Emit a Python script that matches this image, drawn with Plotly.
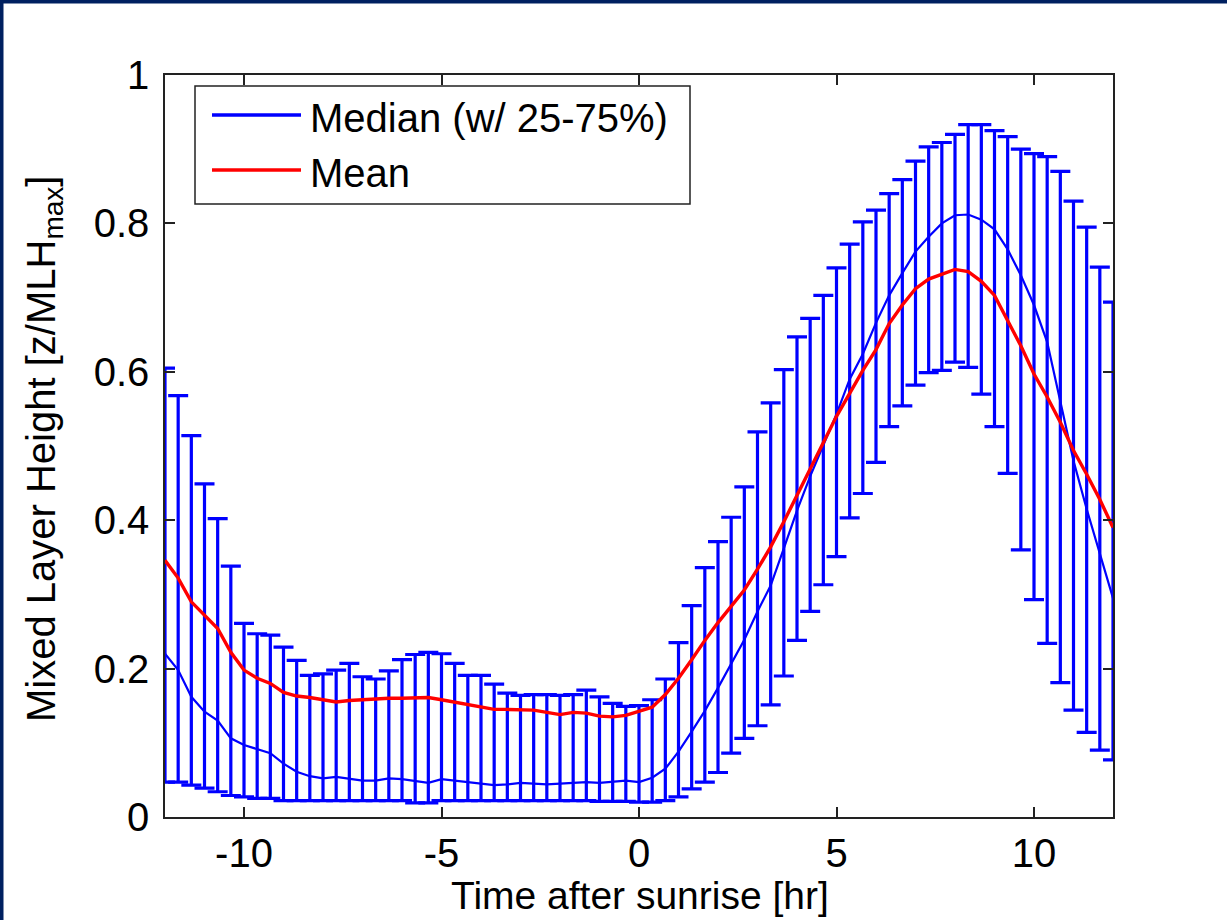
import plotly.graph_objects as go

# Time after sunrise [hr], one sample every 20 minutes from -12 h to +12 h
time_hr = [m / 60 for m in range(-720, 721, 20)]

median = [0.220, 0.198, 0.162, 0.142, 0.130, 0.106, 0.097, 0.092, 0.086, 0.072,
          0.061, 0.055, 0.052, 0.054, 0.052, 0.049, 0.049, 0.052, 0.051, 0.048,
          0.046, 0.051, 0.049, 0.046, 0.044, 0.043, 0.044, 0.046, 0.045, 0.044,
          0.045, 0.046, 0.047, 0.046, 0.047, 0.049, 0.047, 0.053, 0.065, 0.088,
          0.115, 0.143, 0.174, 0.206, 0.239, 0.277, 0.312, 0.362, 0.413, 0.459,
          0.501, 0.543, 0.590, 0.624, 0.666, 0.703, 0.733, 0.762, 0.782, 0.800,
          0.811, 0.812, 0.805, 0.792, 0.765, 0.730, 0.690, 0.640, 0.560, 0.480,
          0.415, 0.355, 0.295]

q25 = [0.047, 0.047, 0.043, 0.039, 0.034, 0.029, 0.027, 0.025, 0.025, 0.022,
       0.022, 0.022, 0.022, 0.022, 0.022, 0.022, 0.022, 0.022, 0.022, 0.019,
       0.019, 0.022, 0.022, 0.022, 0.022, 0.022, 0.022, 0.022, 0.022, 0.022,
       0.022, 0.022, 0.022, 0.021, 0.021, 0.021, 0.020, 0.020, 0.022, 0.027,
       0.038, 0.047, 0.060, 0.086, 0.106, 0.123, 0.151, 0.190, 0.238, 0.277,
       0.313, 0.351, 0.403, 0.436, 0.478, 0.526, 0.554, 0.582, 0.599, 0.602,
       0.613, 0.606, 0.570, 0.526, 0.463, 0.360, 0.293, 0.234, 0.181, 0.144,
       0.114, 0.090, 0.077]

q75 = [0.605, 0.568, 0.514, 0.449, 0.402, 0.338, 0.261, 0.247, 0.245, 0.229,
       0.211, 0.191, 0.193, 0.198, 0.207, 0.189, 0.186, 0.197, 0.212, 0.219,
       0.222, 0.220, 0.207, 0.191, 0.191, 0.179, 0.167, 0.164, 0.165, 0.165,
       0.164, 0.165, 0.171, 0.162, 0.153, 0.149, 0.150, 0.158, 0.186, 0.235,
       0.285, 0.336, 0.371, 0.404, 0.445, 0.519, 0.558, 0.603, 0.647, 0.672,
       0.703, 0.740, 0.772, 0.802, 0.818, 0.840, 0.859, 0.884, 0.903, 0.909,
       0.920, 0.933, 0.933, 0.925, 0.917, 0.900, 0.894, 0.890, 0.870, 0.830,
       0.795, 0.741, 0.694]

mean = [0.346, 0.322, 0.290, 0.272, 0.254, 0.222, 0.198, 0.187, 0.180, 0.168,
        0.163, 0.161, 0.158, 0.155, 0.157, 0.158, 0.160, 0.160, 0.160, 0.161,
        0.161, 0.158, 0.155, 0.152, 0.148, 0.145, 0.145, 0.144, 0.144, 0.141,
        0.138, 0.141, 0.140, 0.136, 0.135, 0.137, 0.142, 0.148, 0.165, 0.187,
        0.212, 0.238, 0.262, 0.284, 0.306, 0.334, 0.364, 0.398, 0.433, 0.468,
        0.503, 0.540, 0.571, 0.602, 0.630, 0.665, 0.690, 0.712, 0.725, 0.731,
        0.738, 0.735, 0.722, 0.703, 0.670, 0.635, 0.597, 0.566, 0.532, 0.494,
        0.462, 0.428, 0.390]

legend_labels = ["Median (w/ 25-75%)", "Mean"]
x_ticks = [-10, -5, 0, 5, 10]
y_ticks = [0, 0.2, 0.4, 0.6, 0.8, 1]

BLUE = "#0000FF"
RED = "#FF0000"
NAVY = "#002060"
FONT = "Liberation Sans, Arial, sans-serif"

err_plus = [u - m for u, m in zip(q75, median)]
err_minus = [m - l for m, l in zip(median, q25)]

fig = go.Figure()
fig.add_trace(go.Scatter(
    x=time_hr, y=median, mode="lines", name=legend_labels[0],
    line=dict(color=BLUE, width=2.2),
    error_y=dict(type="data", symmetric=False, array=err_plus,
                 arrayminus=err_minus, color=BLUE, thickness=3.2, width=10),
    showlegend=False, cliponaxis=True,
))
fig.add_trace(go.Scatter(
    x=time_hr, y=mean, mode="lines", name=legend_labels[1],
    line=dict(color=RED, width=3.4), showlegend=False, cliponaxis=True,
))

W, H = 1227, 920
L, R, T, B = 165, 114, 75, 103
pw, ph = W - L - R, H - T - B


def px(xp):
    return (xp - L) / pw


def py(yp):
    return (H - B - yp) / ph


axis_common = dict(
    showline=True, linecolor="#222222", linewidth=1.5, mirror="ticks",
    ticks="inside", ticklen=10, tickwidth=1.5, tickcolor="#222222",
    showgrid=False, zeroline=False,
    tickfont=dict(family=FONT, size=40, color="black"),
)

fig.update_layout(
    width=W, height=H,
    margin=dict(l=L, r=R, t=T, b=B, pad=0),
    paper_bgcolor="white", plot_bgcolor="white",
    font=dict(family=FONT, color="black"),
    xaxis=dict(range=[-12, 12], tickvals=x_ticks,
               ticktext=[str(v) for v in x_ticks],
               **axis_common),
    yaxis=dict(range=[0, 1], tickvals=y_ticks,
               ticktext=["0", "0.2", "0.4", "0.6", "0.8", "1"],
               ticklabelstandoff=6, **axis_common),
    showlegend=False,
)

shapes = [
    # navy slide frame (top and left edges)
    dict(type="rect", xref="paper", yref="paper", x0=px(-20), x1=px(3.5),
         y0=py(H + 20), y1=py(-20), fillcolor=NAVY, line=dict(width=0),
         layer="above"),
    dict(type="rect", xref="paper", yref="paper", x0=px(-20), x1=px(W + 20),
         y0=py(3.5), y1=py(-20), fillcolor=NAVY, line=dict(width=0),
         layer="above"),
    # legend box
    dict(type="rect", xref="paper", yref="paper", x0=px(195), x1=px(690),
         y0=py(204), y1=py(86), fillcolor="white",
         line=dict(color="#222222", width=1.5), layer="above"),
    dict(type="line", xref="paper", yref="paper", x0=px(212), x1=px(301),
         y0=py(115), y1=py(115), line=dict(color=BLUE, width=3.4),
         layer="above"),
    dict(type="line", xref="paper", yref="paper", x0=px(212), x1=px(301),
         y0=py(170), y1=py(170), line=dict(color=RED, width=3.4),
         layer="above"),
]
fig.update_layout(shapes=shapes)

annotations = [
    dict(text=legend_labels[0], x=px(308), y=py(118), xref="paper",
         yref="paper", xanchor="left", yanchor="middle", showarrow=False,
         font=dict(family=FONT, size=40, color="black")),
    dict(text=legend_labels[1], x=px(308), y=py(173), xref="paper",
         yref="paper", xanchor="left", yanchor="middle", showarrow=False,
         font=dict(family=FONT, size=40, color="black")),
    dict(text="Time after sunrise [hr]", x=px(640), y=py(895), xref="paper",
         yref="paper", xanchor="center", yanchor="middle", showarrow=False,
         font=dict(family=FONT, size=39, color="black")),
    dict(text="Mixed Layer Height [z/MLH<sub>max</sub>]", x=px(44), y=py(449),
         xref="paper", yref="paper", xanchor="center", yanchor="middle",
         textangle=-90, showarrow=False,
         font=dict(family=FONT, size=40, color="black")),
]
fig.update_layout(annotations=annotations)

fig.write_html("out.html")
